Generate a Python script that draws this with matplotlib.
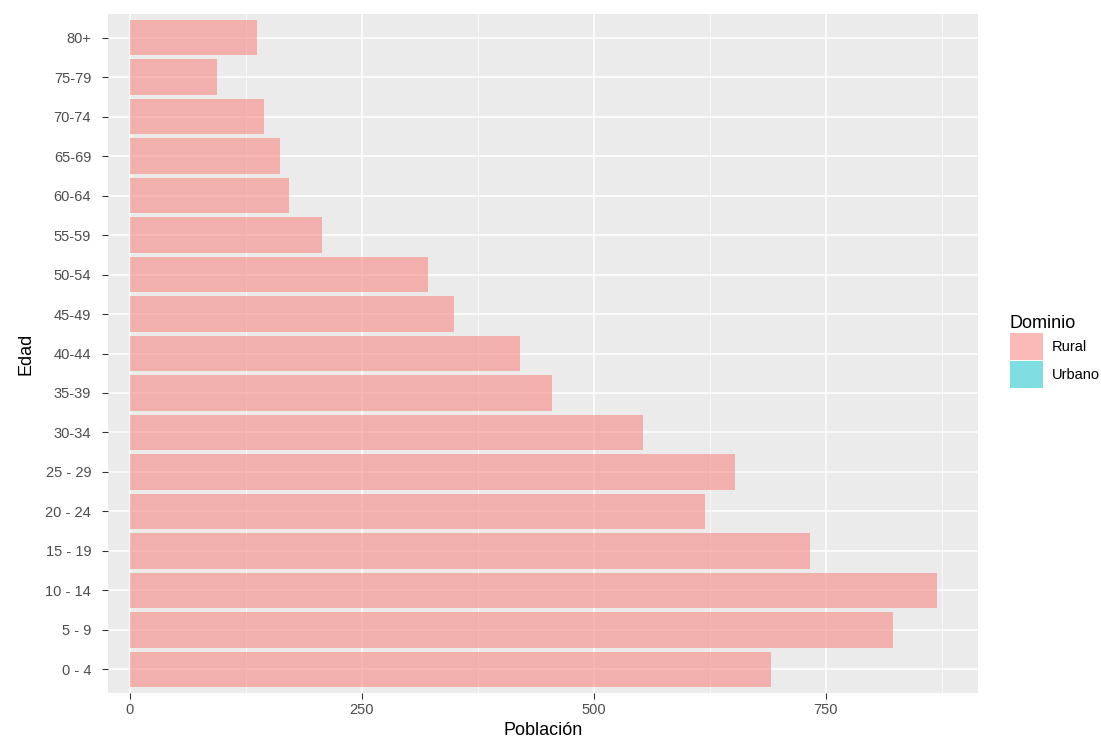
import matplotlib.pyplot as plt
from matplotlib.patches import Patch

plt.rcParams['font.family'] = ['Liberation Sans', 'DejaVu Sans']

edades = ['0 - 4', '5 - 9', '10 - 14', '15 - 19', '20 - 24', '25 - 29', '30-34', '35-39',
          '40-44', '45-49', '50-54', '55-59', '60-64', '65-69', '70-74', '75-79', '80+']
rural = [691, 822, 870, 733, 620, 652, 553, 455, 420, 349, 321, 207, 172, 162, 145, 94, 137]

fig = plt.figure(figsize=(11.01, 7.40), dpi=100)
ax = fig.add_axes([0.098, 1 - 693 / 740, 0.79, (693 - 14) / 740])
ax.set_facecolor('#EBEBEB')
ax.barh(range(len(edades)), rural, height=0.9, color='#F8766D', alpha=0.5, zorder=3)

ax.set_xlim(-23.7, 913.8)
ax.set_ylim(-0.6, len(edades) - 0.4)
ax.set_xticks([0, 250, 500, 750])
ax.set_xticks([125, 375, 625, 875], minor=True)
ax.set_yticks(range(len(edades)))
ax.set_yticklabels(edades)
ax.grid(True, which='major', color='white', linewidth=1.1, zorder=0)
ax.grid(True, which='minor', axis='x', color='white', linewidth=0.5, zorder=0)
for s in ax.spines.values():
    s.set_visible(False)
ax.tick_params(which='major', colors='#333333', labelcolor='#4D4D4D', labelsize=10.5, length=4)
ax.tick_params(axis='y', pad=8)
ax.tick_params(which='minor', length=0)
ax.set_xlabel('Población', fontsize=13, labelpad=3)
ax.set_ylabel('Edad', fontsize=13, labelpad=8)

handles = [Patch(facecolor='#F8766D', alpha=0.5, label='Rural'),
           Patch(facecolor='#00BFC4', alpha=0.5, label='Urbano')]
leg = fig.legend(handles=handles, title='Dominio', loc='center left',
                 bbox_to_anchor=(0.912, 0.525), frameon=False, fontsize=10.5,
                 title_fontsize=13, handlelength=2.3, handleheight=2.5,
                 labelspacing=0.05, handletextpad=0.6, borderaxespad=0)
leg._legend_box.align = 'left'

fig.savefig('out.png', dpi=100)
